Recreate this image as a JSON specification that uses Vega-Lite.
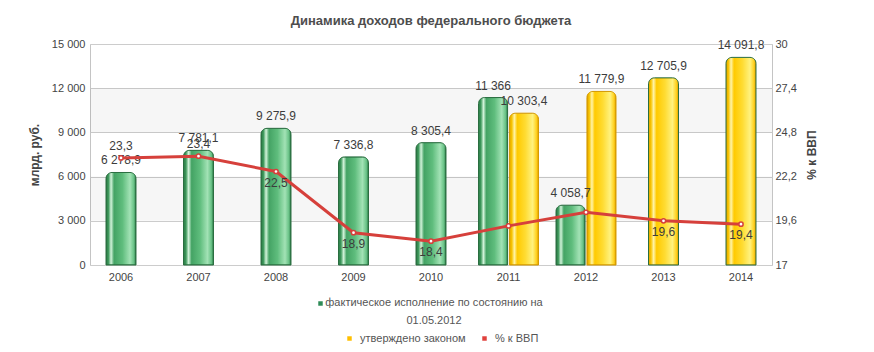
{
  "$schema": "https://vega.github.io/schema/vega-lite/v6.json",
  "width": 682,
  "height": 221,
  "autosize": {"type": "none"},
  "padding": {"left": 90, "top": 44, "right": 102, "bottom": 87},
  "background": "white",
  "title": {"text": "Динамика доходов федерального бюджета", "font": "Liberation Sans", "fontSize": 13, "fontWeight": "bold", "color": "#4d4d4d", "anchor": "middle", "offset": 10},
  "datasets": {
    "bars": [
      {"year": "2006", "series": "фактическое исполнение по состоянию на 01.05.2012", "value": 6278.9},
      {"year": "2007", "series": "фактическое исполнение по состоянию на 01.05.2012", "value": 7781.1},
      {"year": "2008", "series": "фактическое исполнение по состоянию на 01.05.2012", "value": 9275.9},
      {"year": "2009", "series": "фактическое исполнение по состоянию на 01.05.2012", "value": 7336.8},
      {"year": "2010", "series": "фактическое исполнение по состоянию на 01.05.2012", "value": 8305.4},
      {"year": "2011", "series": "фактическое исполнение по состоянию на 01.05.2012", "value": 11366},
      {"year": "2011", "series": "утверждено законом", "value": 10303.4},
      {"year": "2012", "series": "фактическое исполнение по состоянию на 01.05.2012", "value": 4058.7},
      {"year": "2012", "series": "утверждено законом", "value": 11779.9},
      {"year": "2013", "series": "утверждено законом", "value": 12705.9},
      {"year": "2014", "series": "утверждено законом", "value": 14091.8}
    ],
    "pct": [
      {"year": "2006", "pct": 23.3},
      {"year": "2007", "pct": 23.4},
      {"year": "2008", "pct": 22.5},
      {"year": "2009", "pct": 18.9},
      {"year": "2010", "pct": 18.4},
      {"year": "2011", "pct": 19.3},
      {"year": "2012", "pct": 20.1},
      {"year": "2013", "pct": 19.6},
      {"year": "2014", "pct": 19.4}
    ],
    "bands": [
      {"from": 3000, "to": 6000},
      {"from": 9000, "to": 12000}
    ]
  },
  "config": {
    "font": "Liberation Sans",
    "view": {"stroke": "#c4c4c4"},
    "axis": {"labelFont": "Liberation Sans", "labelFontSize": 11, "labelColor": "#444444", "titleFont": "Liberation Sans", "titleFontSize": 12, "titleColor": "#444444", "titleFontWeight": "bold", "ticks": false, "domain": false, "gridColor": "#cccccc", "grid": false},
    "legend": {"labelFont": "Liberation Sans", "labelFontSize": 11, "labelColor": "#555555", "labelLimit": 400, "symbolType": "square", "symbolSize": 20, "symbolStrokeWidth": 0, "symbolOpacity": 1, "padding": 0, "title": null},
    "locale": {"number": {"decimal": ",", "thousands": " ", "grouping": [3], "currency": ["", ""]}}
  },
  "layer": [
    {
      "encoding": {
        "x": {"field": "year", "type": "nominal", "scale": {"domain": ["2006","2007","2008","2009","2010","2011","2012","2013","2014"], "paddingInner": 0.226, "paddingOuter": 0.013}, "axis": {"labelAngle": 0, "labelPadding": 6, "title": null}},
        "y": {"field": "value", "type": "quantitative", "scale": {"domain": [0, 15000], "nice": false},
              "axis": {"orient": "left", "grid": true, "values": [0, 3000, 6000, 9000, 12000, 15000], "format": ",.0f", "labelPadding": 5, "titlePadding": 10, "title": "млрд. руб."}}
      },
      "layer": [
        {
          "data": {"name": "bands"},
          "mark": {"type": "rect", "fill": "#000000", "fillOpacity": 0.035},
          "encoding": {
            "x": null,
            "y": {"field": "from", "type": "quantitative", "scale": {"domain": [0, 15000], "nice": false},
                  "axis": {"orient": "left", "grid": true, "values": [0, 3000, 6000, 9000, 12000, 15000], "format": ",.0f", "labelPadding": 5, "titlePadding": 10, "title": "млрд. руб."}},
            "y2": {"field": "to"}
          }
        },
        {
          "data": {"name": "bars"},
          "transform": [{"joinaggregate": [{"op": "count", "as": "n"}], "groupby": ["year"]}, {"filter": "datum.n == 1"}],
          "mark": {"type": "bar", "width": {"band": 0.5}, "cornerRadiusTopLeft": 6, "cornerRadiusTopRight": 6, "strokeWidth": 1},
          "encoding": {
            "fill": {"condition": {"test": "datum.series === 'утверждено законом'", "value": {"gradient": "linear", "x1": 0, "y1": 0, "x2": 1, "y2": 0, "stops": [{"offset": 0, "color": "#e3a400"}, {"offset": 0.08, "color": "#f7c400"}, {"offset": 0.17, "color": "#fff4a8"}, {"offset": 0.27, "color": "#ffca00"}, {"offset": 0.55, "color": "#ffdc33"}, {"offset": 0.8, "color": "#fff27e"}, {"offset": 0.93, "color": "#ffd11f"}, {"offset": 1, "color": "#e09e00"}]}},
                     "value": {"gradient": "linear", "x1": 0, "y1": 0, "x2": 1, "y2": 0, "stops": [{"offset": 0, "color": "#2c7846"}, {"offset": 0.08, "color": "#3c985a"}, {"offset": 0.17, "color": "#d2f3da"}, {"offset": 0.27, "color": "#44a364"}, {"offset": 0.55, "color": "#5fbd7d"}, {"offset": 0.8, "color": "#a2e2b5"}, {"offset": 0.93, "color": "#68c286"}, {"offset": 1, "color": "#2c7846"}]}},
            "stroke": {"condition": {"test": "datum.series === 'утверждено законом'", "value": "#d49a00"}, "value": "#2a6e40"}
          }
        },
        {
          "data": {"name": "bars"},
          "transform": [{"joinaggregate": [{"op": "count", "as": "n"}], "groupby": ["year"]}, {"filter": "datum.n == 2"}],
          "mark": {"type": "bar", "cornerRadiusTopLeft": 6, "cornerRadiusTopRight": 6, "strokeWidth": 1},
          "encoding": {
            "xOffset": {"field": "series", "type": "nominal", "scale": {"domain": ["фактическое исполнение по состоянию на 01.05.2012", "утверждено законом"], "paddingInner": 0.06}},
            "fill": {"condition": {"test": "datum.series === 'утверждено законом'", "value": {"gradient": "linear", "x1": 0, "y1": 0, "x2": 1, "y2": 0, "stops": [{"offset": 0, "color": "#e3a400"}, {"offset": 0.08, "color": "#f7c400"}, {"offset": 0.17, "color": "#fff4a8"}, {"offset": 0.27, "color": "#ffca00"}, {"offset": 0.55, "color": "#ffdc33"}, {"offset": 0.8, "color": "#fff27e"}, {"offset": 0.93, "color": "#ffd11f"}, {"offset": 1, "color": "#e09e00"}]}},
                     "value": {"gradient": "linear", "x1": 0, "y1": 0, "x2": 1, "y2": 0, "stops": [{"offset": 0, "color": "#2c7846"}, {"offset": 0.08, "color": "#3c985a"}, {"offset": 0.17, "color": "#d2f3da"}, {"offset": 0.27, "color": "#44a364"}, {"offset": 0.55, "color": "#5fbd7d"}, {"offset": 0.8, "color": "#a2e2b5"}, {"offset": 0.93, "color": "#68c286"}, {"offset": 1, "color": "#2c7846"}]}},
            "stroke": {"condition": {"test": "datum.series === 'утверждено законом'", "value": "#d49a00"}, "value": "#2a6e40"}
          }
        },
        {
          "data": {"name": "bars"},
          "transform": [{"joinaggregate": [{"op": "count", "as": "n"}], "groupby": ["year"]}, {"filter": "datum.n == 1"}],
          "mark": {"type": "text", "baseline": "bottom", "dy": -5, "fontSize": 12, "color": "#3c3c3c"},
          "encoding": {
            "text": {"field": "value", "type": "quantitative", "format": ","}
          }
        },
        {
          "data": {"name": "bars"},
          "transform": [{"joinaggregate": [{"op": "count", "as": "n"}], "groupby": ["year"]}, {"filter": "datum.n == 2"}],
          "mark": {"type": "text", "baseline": "bottom", "dy": -5, "fontSize": 12, "color": "#3c3c3c"},
          "encoding": {
            "xOffset": {"field": "series", "type": "nominal", "scale": {"domain": ["фактическое исполнение по состоянию на 01.05.2012", "утверждено законом"], "paddingInner": 0.06}},
            "text": {"field": "value", "type": "quantitative", "format": ","}
          }
        }
      ]
    },
    {
      "data": {"name": "pct"},
      "encoding": {
        "x": {"field": "year", "type": "nominal", "scale": {"domain": ["2006","2007","2008","2009","2010","2011","2012","2013","2014"], "paddingInner": 0.226, "paddingOuter": 0.013}, "axis": {"labelAngle": 0, "labelPadding": 6, "title": null}},
        "y": {"field": "pct", "type": "quantitative", "scale": {"domain": [17, 30], "zero": false, "nice": false},
              "axis": {"orient": "right", "values": [17, 19.6, 22.2, 24.8, 27.4, 30], "format": ",.1~f", "labelPadding": 3, "titleAngle": 270, "titleBaseline": "top", "titlePadding": 10, "title": "% к ВВП"}}
      },
      "layer": [
        {"mark": {"type": "line", "color": "#d6403b", "strokeWidth": 3}},
        {"mark": {"type": "point", "shape": "circle", "filled": true, "fill": "#ffffff", "stroke": "#d6403b", "strokeWidth": 1.5, "size": 18, "opacity": 1}},
        {
          "transform": [{"filter": "datum.pct >= 23"}],
          "mark": {"type": "text", "baseline": "bottom", "dy": -5, "fontSize": 12, "color": "#3c3c3c"},
          "encoding": {"text": {"field": "pct", "type": "quantitative", "format": ","}}
        },
        {
          "transform": [{"filter": "datum.pct < 23 && datum.year != '2011' && datum.year != '2012'"}],
          "mark": {"type": "text", "baseline": "top", "dy": 6, "fontSize": 12, "color": "#3c3c3c"},
          "encoding": {"text": {"field": "pct", "type": "quantitative", "format": ","}}
        }
      ]
    },
    {
      "data": {"name": "pct"},
      "transform": [{"filter": "false"}],
      "mark": {"type": "square", "opacity": 1},
      "encoding": {
        "fill": {"datum": "фактическое исполнение по состоянию на 01.05.2012", "scale": {"range": ["#2e8b57"]},
                 "legend": {"orient": "none", "legendX": 225, "legendY": 254, "labelAlign": "center", "labelOffset": 108, "labelBaseline": "top",
                            "labelExpr": "['фактическое исполнение по состоянию на', '01.05.2012']",
                            "encode": {"labels": {"update": {"dy": {"value": -7}, "lineHeight": {"value": 18}}}}}}
      }
    },
    {
      "data": {"name": "pct"},
      "transform": [{"filter": "false"}],
      "mark": {"type": "square", "opacity": 1},
      "encoding": {
        "color": {"datum": "утверждено законом", "scale": {"range": ["#ffbf00"]},
                  "legend": {"orient": "none", "legendX": 254, "legendY": 289, "labelOffset": 5}}
      }
    },
    {
      "data": {"name": "pct"},
      "transform": [{"filter": "false"}],
      "mark": {"type": "point", "filled": true, "color": "#e0413c", "opacity": 1},
      "encoding": {
        "shape": {"datum": "% к ВВП", "scale": {"range": ["square"]},
                  "legend": {"orient": "none", "legendX": 389, "legendY": 289, "labelOffset": 5, "symbolFillColor": "#e0413c"}}
      }
    }
  ],
  "resolve": {"scale": {"y": "independent"}}
}
